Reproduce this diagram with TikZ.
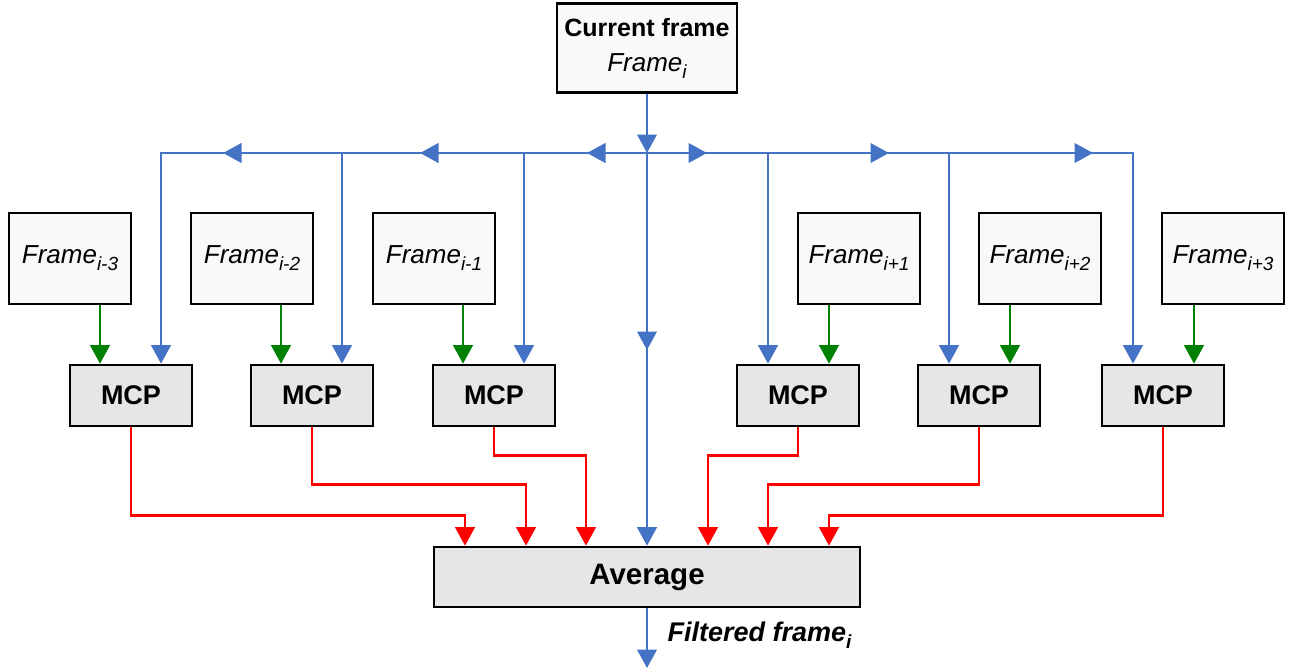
\documentclass[tikz,border=0pt]{standalone}
\usepackage{fontspec}
\setmainfont{Liberation Sans}
\usetikzlibrary{arrows.meta,calc,decorations.markings}
\definecolor{cblue}{RGB}{68,114,196}
\definecolor{cgreen}{RGB}{0,128,0}
\definecolor{cred}{RGB}{255,0,0}
\definecolor{lightfill}{RGB}{249,249,249}
\definecolor{grayfill}{RGB}{230,230,230}
\newcommand\sbs[1]{\raisebox{-7pt}{\fontsize{19}{19}\selectfont #1}}
\tikzset{
  tri/.tip={Triangle[length=18.5pt,width=19.5pt]},
  box/.style={draw=black,line width=2.6pt,inner sep=0pt,align=center},
  framebox/.style={box,fill=lightfill,minimum width=122pt,minimum height=91pt,font=\fontsize{26}{30}\selectfont\itshape},
  curbox/.style={box,fill=lightfill,minimum width=180pt,minimum height=89pt,font=\fontsize{25}{34}\selectfont},
  mcpbox/.style={box,fill=grayfill,minimum width=122pt,minimum height=61pt,font=\fontsize{27}{30}\selectfont\bfseries},
  avgbox/.style={box,fill=grayfill,minimum width=426pt,minimum height=60pt,font=\fontsize{29.5}{30}\selectfont\bfseries},
  bl/.style={draw=cblue,line width=2.5pt},
  gr/.style={draw=cgreen,line width=2.5pt,-{tri},cgreen},
  rd/.style={draw=cred,line width=2.5pt,-{tri},cred},
  busleft/.style={postaction={decorate,decoration={markings,
      mark=at position 60pt with {\arrow{tri}},
      mark=at position 227pt with {\arrow{tri}},
      mark=at position 424pt with {\arrow{tri}}}}},
  busright/.style={postaction={decorate,decoration={markings,
      mark=at position 60pt with {\arrow{tri}},
      mark=at position 242pt with {\arrow{tri}},
      mark=at position 446pt with {\arrow{tri}}}}},
  midarrow/.style={postaction={decorate,decoration={markings,
      mark=at position 197pt with {\arrow{tri}}}}}
}
\begin{document}
\begin{tikzpicture}[x=1pt,y=-1pt]
\useasboundingbox (0,0) rectangle (1291,669);

% nodes
\node[curbox] (cur) at (647,48) {{\bfseries Current frame}\\[1pt]{\fontsize{26}{30}\selectfont\itshape Frame\sbs{i}}};
\node[framebox] (f1) at (70,258.5) {Frame\sbs{i-3}};
\node[framebox] (f2) at (252,258.5) {Frame\sbs{i-2}};
\node[framebox] (f3) at (434,258.5) {Frame\sbs{i-1}};
\node[framebox] (f4) at (859,258.5) {Frame\sbs{i+1}};
\node[framebox] (f5) at (1040,258.5) {Frame\sbs{i+2}};
\node[framebox] (f6) at (1223,258.5) {Frame\sbs{i+3}};
\node[mcpbox] (m1) at (131,395.5) {MCP};
\node[mcpbox] (m2) at (312,395.5) {MCP};
\node[mcpbox] (m3) at (494,395.5) {MCP};
\node[mcpbox] (m4) at (798,395.5) {MCP};
\node[mcpbox] (m5) at (979,395.5) {MCP};
\node[mcpbox] (m6) at (1163,395.5) {MCP};
\node[avgbox] (avg) at (647,577) {Average};

% coordinates
\coordinate (busC) at (647,153);
\coordinate (g1) at ($(m1.north)+(-31,0)$);
\coordinate (g2) at ($(m2.north)+(-31,0)$);
\coordinate (g3) at ($(m3.north)+(-31,0)$);
\coordinate (g4) at ($(m4.north)+(31,0)$);
\coordinate (g5) at ($(m5.north)+(31,0)$);
\coordinate (g6) at ($(m6.north)+(31,0)$);
\coordinate (b1) at ($(m1.north)+(30,0)$);
\coordinate (b2) at ($(m2.north)+(30,0)$);
\coordinate (b3) at ($(m3.north)+(30,0)$);
\coordinate (b4) at ($(m4.north)+(-30,0)$);
\coordinate (b5) at ($(m5.north)+(-30,0)$);
\coordinate (b6) at ($(m6.north)+(-30,0)$);
\coordinate (a1) at ($(avg.north)+(-182,0)$);
\coordinate (a2) at ($(avg.north)+(-121,0)$);
\coordinate (a3) at ($(avg.north)+(-61,0)$);
\coordinate (a4) at ($(avg.north)+(61,0)$);
\coordinate (a5) at ($(avg.north)+(121,0)$);
\coordinate (a6) at ($(avg.north)+(182,0)$);
\coordinate (out) at (647,668);

% blue
\draw[bl,-{tri},cblue] (cur.south) -- (busC);
\draw[bl,-{tri},cblue,busleft] (busC) -- (b1 |- busC) -- (b1);
\draw[bl,-{tri},cblue,busright] (busC) -- (b6 |- busC) -- (b6);
\draw[bl,-{tri},cblue] (b2 |- busC) -- (b2);
\draw[bl,-{tri},cblue] (b3 |- busC) -- (b3);
\draw[bl,-{tri},cblue] (b4 |- busC) -- (b4);
\draw[bl,-{tri},cblue] (b5 |- busC) -- (b5);
\draw[bl,-{tri},cblue,midarrow] (busC) -- (avg.north);
\draw[bl,-{tri},cblue] (avg.south) -- (out);
\node[anchor=base west,font=\fontsize{27}{30}\selectfont\bfseries\itshape] (lbl) at (664,641) {Filtered frame\sbs{i}};

% green
\draw[gr] (f1.south -| g1) -- (g1);
\draw[gr] (f2.south -| g2) -- (g2);
\draw[gr] (f3.south -| g3) -- (g3);
\draw[gr] (f4.south -| g4) -- (g4);
\draw[gr] (f5.south -| g5) -- (g5);
\draw[gr] (f6.south -| g6) -- (g6);

% red
\draw[rd] (m1.south) |- ($(a1)+(0,-30)$) -- (a1);
\draw[rd] (m2.south) |- ($(a2)+(0,-61)$) -- (a2);
\draw[rd] (m3.south) |- ($(a3)+(0,-90)$) -- (a3);
\draw[rd] (m4.south) |- ($(a4)+(0,-90)$) -- (a4);
\draw[rd] (m5.south) |- ($(a5)+(0,-61)$) -- (a5);
\draw[rd] (m6.south) |- ($(a6)+(0,-30)$) -- (a6);
\end{tikzpicture}
\end{document}
